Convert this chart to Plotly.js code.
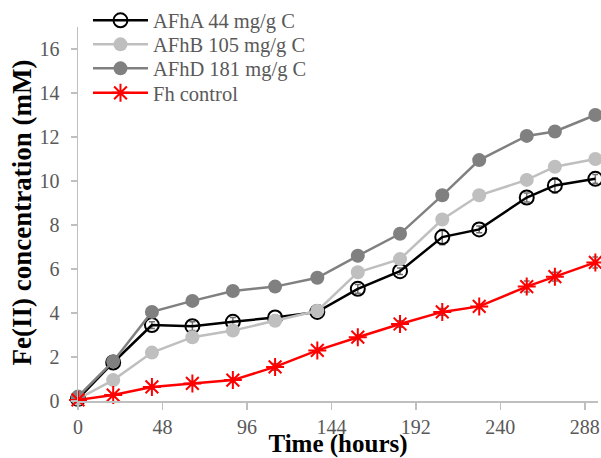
<!DOCTYPE html>
<html>
<head>
<meta charset="utf-8">
<script src="https://cdn.plot.ly/plotly-3.0.1.min.js"></script>
<style>html,body{margin:0;padding:0;background:#fff}#chart{width:601px;height:458px}</style>
</head>
<body>
<div id="chart"></div>
<script>
var hours = [0, 20, 42, 65, 88, 112, 136, 159, 183, 207, 228, 255, 271, 294];
var afhA = [0.1, 1.75, 3.45, 3.4, 3.6, 3.8, 4.05, 5.1, 5.9, 7.45, 7.8, 9.25, 9.8, 10.1];
var afhB = [0.1, 0.95, 2.2, 2.9, 3.2, 3.65, 4.1, 5.85, 6.45, 8.25, 9.35, 10.05, 10.65, 11.0];
var afhD = [0.2, 1.8, 4.05, 4.55, 5.0, 5.2, 5.6, 6.6, 7.6, 9.35, 10.95, 12.05, 12.25, 13.0];
var fhCtrl = [0.05, 0.27, 0.64, 0.8, 0.95, 1.55, 2.3, 2.9, 3.5, 4.05, 4.3, 5.2, 5.65, 6.3];
var errA = [0.05, 0.1, 0.15, 0.2, 0.2, 0.1, 0.1, 0.2, 0.15, 0.35, 0.15, 0.2, 0.35, 0.2];
var errB = [0.05, 0.05, 0.1, 0.1, 0.1, 0.1, 0.1, 0.1, 0.1, 0.1, 0.1, 0.1, 0.1, 0.1];
var errD = [0.05, 0.05, 0.1, 0.1, 0.1, 0.1, 0.1, 0.1, 0.1, 0.1, 0.1, 0.1, 0.1, 0.1];
var errC = [0.05, 0.05, 0.1, 0.1, 0.1, 0.15, 0.1, 0.1, 0.15, 0.15, 0.1, 0.25, 0.2, 0.25];
var names = ["AFhA 44 mg/g C", "AFhB 105 mg/g C", "AFhD 181 mg/g C", "Fh control"];
var xTicks = [0, 48, 96, 144, 192, 240, 288];
var yTicks = [0, 2, 4, 6, 8, 10, 12, 14, 16];
var xTitle = 'Time (hours)';
var yTitle = 'Fe(II) concentration (mM)';

var SERIF = 'Liberation Serif';

function eb(arr){return {type:'data', array:arr, visible:true, color:'#707070', thickness:1.5, width:3};}

var traces = [
  {x:hours, y:afhA, name:names[0], legend:'legend', mode:'lines+markers', error_y:eb(errA),
   line:{color:'#000000', width:2.5}, marker:{symbol:'circle-open', size:14, color:'#000000', line:{width:2}}, cliponaxis:false},
  {x:hours, y:afhB, name:names[1], legend:'legend2', mode:'lines+markers', error_y:eb(errB),
   line:{color:'#bfbfbf', width:2.5}, marker:{symbol:'circle', size:14, color:'#bfbfbf'}, cliponaxis:false},
  {x:hours, y:afhD, name:names[2], legend:'legend3', mode:'lines+markers', error_y:eb(errD),
   line:{color:'#808080', width:2.5}, marker:{symbol:'circle', size:14, color:'#808080'}, cliponaxis:false},
  {x:hours, y:fhCtrl, name:names[3], legend:'legend4', mode:'lines+markers', error_y:eb(errC),
   line:{color:'#ff0000', width:2.5}, marker:{symbol:'asterisk-open', size:15, color:'#ff0000', line:{width:2, color:'#ff0000'}}, cliponaxis:false}
];

function leg(yc){
  return {x:0.1464, y:yc, xref:'container', yref:'container', xanchor:'left', yanchor:'middle',
          bgcolor:'rgba(0,0,0,0)', borderwidth:0, itemwidth:55,
          font:{size:20.5, color:'#595959', family:SERIF}};
}

var layout = {
  width:601, height:458,
  margin:{l:78, r:3, t:27, b:57, autoexpand:false},
  paper_bgcolor:'#ffffff', plot_bgcolor:'#ffffff',
  font:{family:SERIF, color:'#595959', size:20},
  showlegend:true,
  legend:leg(0.9552), legend2:leg(0.9028), legend3:leg(0.8504), legend4:leg(0.7969),
  xaxis:{range:[0, 295.5], tickvals:xTicks, ticktext:xTicks.map(String), showgrid:false, zeroline:false,
         showline:true, linecolor:'#bfbfbf', linewidth:1.5, ticks:'outside', ticklen:7, tickcolor:'#bfbfbf', tickwidth:1.5,
         ticklabelstandoff:0,
         tickfont:{size:20, color:'#595959', family:SERIF},
         title:{text:'<b>' + xTitle + '</b>', font:{size:25, color:'#000000', family:SERIF}, standoff:0}},
  yaxis:{range:[0, 17], tickvals:yTicks, ticktext:yTicks.map(String), showgrid:false, zeroline:false,
         showline:true, linecolor:'#bfbfbf', linewidth:1.5, ticks:'outside', ticklen:6, tickcolor:'#bfbfbf', tickwidth:1.5,
         ticklabelstandoff:7,
         tickfont:{size:20, color:'#595959', family:SERIF}},
  xaxis2:{overlaying:'x', matches:'x', showgrid:false, zeroline:false, showline:false, showticklabels:false,
          tickvals:xTicks, ticks:'inside', ticklen:6, tickcolor:'#bfbfbf', tickwidth:1.5},
  yaxis2:{overlaying:'y', matches:'y', showgrid:false, zeroline:false, showline:false, showticklabels:false,
          tickvals:yTicks, ticks:'inside', ticklen:6, tickcolor:'#bfbfbf', tickwidth:1.5},
  annotations:[{text:'<b>' + yTitle + '</b>', xref:'paper', yref:'paper', x:-0.1077, y:0.504,
                xanchor:'center', yanchor:'middle', textangle:-90, showarrow:false,
                font:{size:27, color:'#000000', family:SERIF}}]
};

Plotly.newPlot('chart', traces, layout, {displayModeBar:false, staticPlot:true});
</script>
</body>
</html>
